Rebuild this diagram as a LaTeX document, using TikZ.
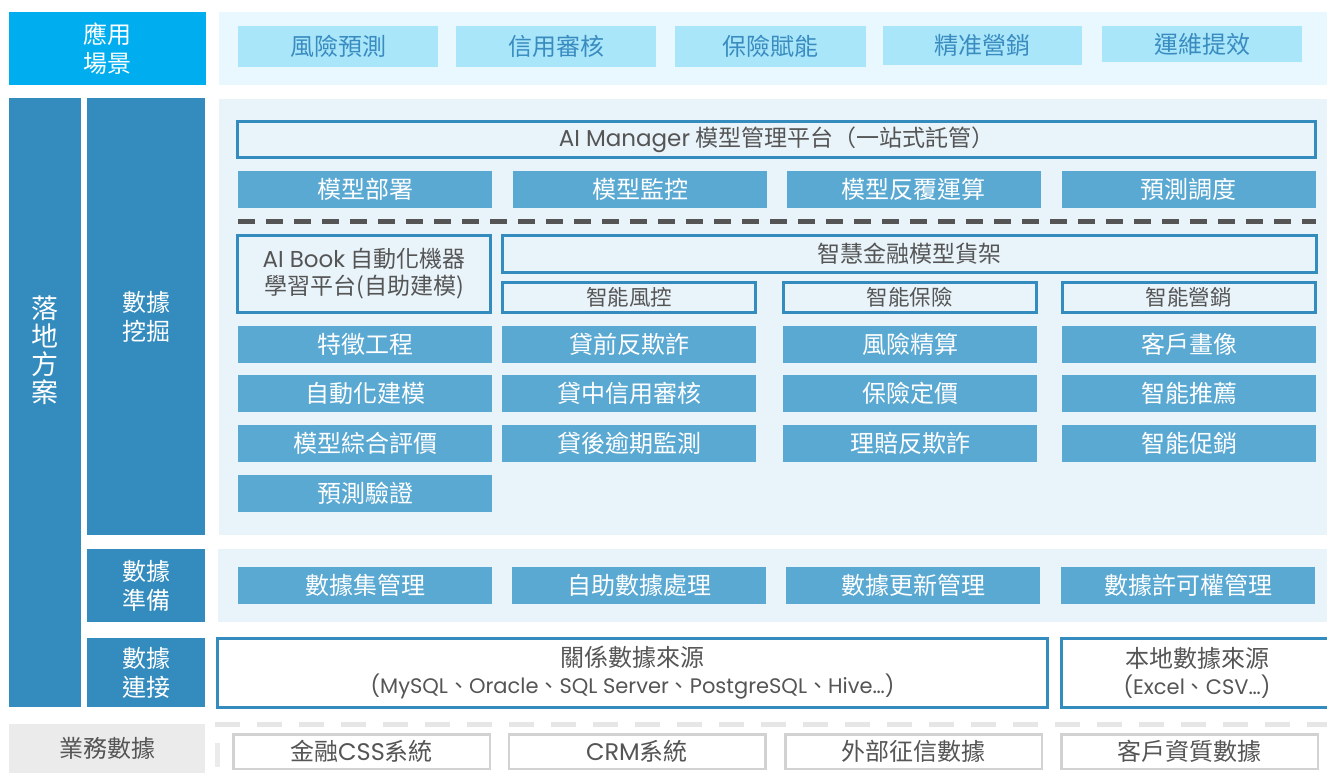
\documentclass[tikz,border=0pt]{standalone}
\usepackage{fontspec}
\setmainfont{Noto Sans CJK TC}
\newfontfamily\latfont{Poppins}
\newcommand{\fs}[2]{\fontsize{#1}{#2}\selectfont}
\definecolor{appcyan}{HTML}{00AEEF}
\definecolor{applight}{HTML}{E9F8FE}
\definecolor{appitem}{HTML}{A9E6FA}
\definecolor{apptext}{HTML}{3A8CC0}
\definecolor{darkblue}{HTML}{338CBD}
\definecolor{itemblue}{HTML}{5AA9D3}
\definecolor{panelblue}{HTML}{E8F3FA}
\definecolor{txtgray}{HTML}{555555}
\definecolor{lightgray}{HTML}{EBEBEB}
\definecolor{linegray}{HTML}{E6E6E6}
\definecolor{boxgray}{HTML}{D2D2D2}
\tikzset{
	every node/.style = {inner sep = 0pt, align = center},
	tag/.style = {fill = darkblue, text = white, font = \fs{24}{29}},
	panel/.style = {fill = panelblue},
	appbox/.style = {fill = appitem, text = apptext, font = \fs{24}{29}},
	blk/.style = {fill = itemblue, text = white, minimum width = 254, minimum height = 37, font = \fs{24}{29}},
	frm/.style = {draw = darkblue, line width = 3pt, fill = panelblue, text = txtgray, font = \fs{23}{27}},
	sub/.style = {frm, minimum width = 253, minimum height = 30, font = \fs{21.5}{26}},
	srcbox/.style = {draw = darkblue, line width = 3pt, fill = white, text = txtgray, minimum height = 69, font = \fs{24}{27}},
	biz/.style = {draw = boxgray, line width = 2.5pt, fill = white, text = txtgray, minimum width = 256.5, minimum height = 34.5, font = \fs{24}{29}}
}
\begin{document}
\begin{tikzpicture}[x = 1pt, y = -1pt]
	\useasboundingbox (0, 0) rectangle (1327, 773);
	\node[tag, fill = appcyan, minimum width = 197, minimum height = 73] (scene) at (107.5, 48.5) {應用\\場景};
	\node[fill = applight, minimum width = 1108, minimum height = 73] (scenepanel) at (773, 48.5) {};
	\foreach \x/\w/\h/\t [count = \i] in {338/200/41/風險預測, 556/200/41/信用審核, 770.5/191/41/保險賦能, 982.5/199/39/精准營銷, 1202/200/36/運維提效}
		\node[appbox, minimum width = \w, minimum height = \h] (use\i) at (\x, 26 + \h/2) {\t};

	\node[tag, minimum width = 72, minimum height = 609] (land) at (45, 402.5) {};
	\node[text = white, font = \fs{27}{28}] (landtext) at (45, 350) {落\\地\\方\\案};
	\node[tag, minimum width = 118, minimum height = 437] (mining) at (146, 316.5) {數據\\挖掘};
	\node[tag, minimum width = 118, minimum height = 73] (prep) at (146, 585.5) {數據\\準備};
	\node[tag, minimum width = 118, minimum height = 69] (conn) at (146, 672.5) {數據\\連接};

	\node[panel, minimum width = 1108, minimum height = 436] (miningpanel) at (773, 317) {};
	\node[frm, minimum width = 1078, minimum height = 36] (manager) at (776.5, 139.5) {{\latfont AI Manager} 模型管理平台（一站式託管）};
	\foreach \x/\t [count = \i] in {365/模型部署, 640/模型監控, 913.5/模型反覆運算, 1188.5/預測調度}
		\node[blk] (ops\i) at (\x, 189.5) {\t};
	\draw[txtgray, line width = 5pt, dash pattern = on 17pt off 11pt] (238, 221) -- (1316, 221);
	\node[frm, minimum width = 253, minimum height = 77, font = \fs{23}{27}] (book) at (364, 274) {{\latfont AI Book} 自動化機器\\學習平台(自助建模)};
	\node[frm, minimum width = 814, minimum height = 37] (shelf) at (909.5, 254) {智慧金融模型貨架};
	\node[sub] (risk) at (629, 297.5) {智能風控};
	\node[sub] (insure) at (909.5, 297.5) {智能保險};
	\node[sub] (market) at (1188.5, 297.5) {智能營銷};
	\foreach \y/\a/\b/\c/\d [count = \i] in {344.5/特徵工程/貸前反欺詐/風險精算/客戶畫像, 393.5/自動化建模/貸中信用審核/保險定價/智能推薦, 443.5/模型綜合評價/貸後逾期監測/理賠反欺詐/智能促銷}{
		\node[blk] (mdl\i) at (365, \y) {\a};
		\node[blk] (loan\i) at (629, \y) {\b};
		\node[blk] (ins\i) at (910, \y) {\c};
		\node[blk] (mkt\i) at (1189, \y) {\d};
	}
	\node[blk] (mdl4) at (365, 493.5) {預測驗證};

	\node[panel, minimum width = 1109, minimum height = 73] (preppanel) at (772.5, 585.5) {};
	\foreach \x/\t [count = \i] in {365/數據集管理, 639/自助數據處理, 913/數據更新管理, 1188/數據許可權管理}
		\node[blk] (set\i) at (\x, 585.5) {\t};

	\node[srcbox, minimum width = 830] (rel) at (632.5, 673) {關係數據來源\\\fs{21}{27}{\latfont (MySQL}、{\latfont Oracle}、{\latfont SQL Server}、{\latfont PostgreSQL}、{\latfont Hive…)}};
	\node[srcbox, minimum width = 272] (local) at (1197, 673) {本地數據來源\\\fs{21}{27}{\latfont (Excel}、{\latfont CSV…)}};

	\draw[linegray, line width = 5pt, dash pattern = on 25pt off 17pt] (215, 724.5) -- (1327, 724.5);
	\fill[lightgray] (215, 743) rectangle (220, 767);
	\node[fill = lightgray, text = txtgray, minimum width = 196, minimum height = 49, font = \fs{24}{29}] (biz) at (107, 748.5) {業務數據};
	\node[biz] (bizcss) at (361.5, 751.5) {金融{\latfont CSS}系統};
	\node[biz] (bizcrm) at (637, 751.5) {{\latfont CRM}系統};
	\node[biz] (bizext) at (913.5, 751.5) {外部征信數據};
	\node[biz] (bizcust) at (1189.5, 751.5) {客戶資質數據};
\end{tikzpicture}
\end{document}
